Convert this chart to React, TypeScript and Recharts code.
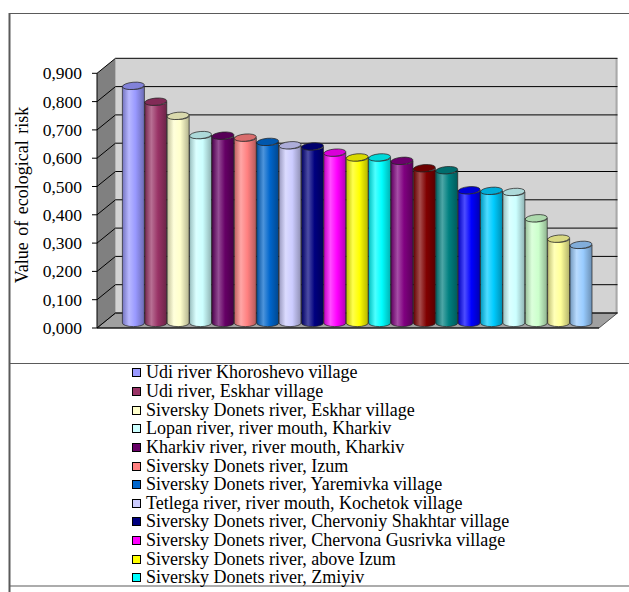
import React from "react";
import { Bar, BarChart, CartesianGrid, XAxis, YAxis } from "recharts";

// sampling sites, in the order of the bars (only the first 12 fit in the legend box)
const SITES = [
  "Udi river Khoroshevo village",
  "Udi river, Eskhar village",
  "Siversky Donets river, Eskhar village",
  "Lopan river, river mouth, Kharkiv",
  "Kharkiv river, river mouth, Kharkiv",
  "Siversky Donets river, Izum",
  "Siversky Donets river, Yaremivka village",
  "Tetlega river, river mouth, Kochetok village",
  "Siversky Donets river, Chervoniy Shakhtar village",
  "Siversky Donets river, Chervona Gusrivka village",
  "Siversky Donets river, above Izum",
  "Siversky Donets river, Zmiyiv",
];

const RISK = [
  0.838, 0.782, 0.732, 0.664, 0.662, 0.655, 0.64, 0.628, 0.624, 0.602, 0.585,
  0.585, 0.573, 0.547, 0.54, 0.469, 0.467, 0.463, 0.37, 0.298, 0.276,
];

const COLORS = [
  "#9999FF", "#993366", "#FFFFCC", "#CCFFFF", "#660066", "#FF8080", "#0066CC",
  "#CCCCFF", "#000080", "#FF00FF", "#FFFF00", "#00FFFF", "#800080", "#800000",
  "#008080", "#0000FF", "#00CCFF", "#CCFFFF", "#CCFFCC", "#FFFF99", "#99CCFF",
];

const TICKS = [0, 0.1, 0.2, 0.3, 0.4, 0.5, 0.6, 0.7, 0.8, 0.9];

const rows = RISK.map((risk, i) => ({
  site: SITES[i] ?? `site ${i + 1}`,
  risk,
  color: COLORS[i],
}));

const W = 629;
const H = 592;
const FONT = '"Liberation Serif", "Times New Roman", serif';

// 3-D box geometry
const FRONT_X = 97;
const FLOOR_RIGHT = 599;
const DX = 18.5;
const DY = 15;
const Y0_FRONT = 328;
const PX_PER_UNIT = 283;
const BAR_DEPTH = 1 / 3;
const PLOT_LEFT = FRONT_X + DX * BAR_DEPTH;
const PLOT_RIGHT = FLOOR_RIGHT + DX * BAR_DEPTH;
const PLOT_BOTTOM = Y0_FRONT - DY * BAR_DEPTH;
const PLOT_TOP = PLOT_BOTTOM - 0.9 * PX_PER_UNIT;
const TOP_FRONT = Y0_FRONT - 0.9 * PX_PER_UNIT;
const YAXIS_W = 60;

function mix(hex: string, target: string, t: number) {
  const a = parseInt(hex.slice(1), 16);
  const b = parseInt(target.slice(1), 16);
  const ch = (v: number, s: number) => (v >> s) & 255;
  const out = [16, 8, 0].map((s) => Math.round(ch(a, s) * (1 - t) + ch(b, s) * t));
  return `rgb(${out.join(",")})`;
}

function Cylinder(props: any) {
  const { x, y, width, height, payload, index } = props;
  if (!height || height <= 0) return null;
  const rx = width / 2;
  const ry = 3.6;
  const base = y + height;
  const c = payload.color;
  const gid = `cyl-${index}`;
  const body = `M${x},${y} V${base} A${rx},${ry} 0 0 0 ${x + width},${base} V${y} A${rx},${ry} 0 0 1 ${x},${y} Z`;
  return (
    <g>
      <defs>
        <linearGradient id={gid} x1="0" x2="1" y1="0" y2="0">
          <stop offset="0" stopColor={mix(c, "#000000", 0.25)} />
          <stop offset="0.3" stopColor={mix(c, "#FFFFFF", 0.3)} />
          <stop offset="0.6" stopColor={c} />
          <stop offset="1" stopColor={mix(c, "#000000", 0.3)} />
        </linearGradient>
      </defs>
      <path d={body} fill={`url(#${gid})`} stroke="#222" strokeWidth={0.7} />
      <ellipse
        cx={x + rx}
        cy={y}
        rx={rx}
        ry={ry}
        transform={`rotate(-5 ${x + rx} ${y})`}
        fill={mix(c, "#000000", 0.15)}
        stroke="#222"
        strokeWidth={0.7}
      />
    </g>
  );
}

function YTick(props: any) {
  const { y, payload } = props;
  const fy = y + DY * BAR_DEPTH;
  return (
    <g>
      <line x1={FRONT_X - 5} x2={FRONT_X} y1={fy} y2={fy} stroke="#000" />
      <text
        x={FRONT_X - 15}
        y={fy}
        textAnchor="end"
        dominantBaseline="central"
        fontFamily={FONT}
        fontSize={17.5}
        fill="#000"
      >
        {payload.value.toFixed(3).replace(".", ",")}
      </text>
    </g>
  );
}

function GridLine(p: any) {
  const y = p.y1;
  const backY = y - DY * (1 - BAR_DEPTH);
  const frontY = y + DY * BAR_DEPTH;
  return (
    <g key={p.key}>
      <line x1={FRONT_X} y1={frontY} x2={FRONT_X + DX} y2={backY} stroke="#000" />
      <line x1={FRONT_X + DX} y1={backY} x2={FLOOR_RIGHT + DX} y2={backY} stroke="#000" />
    </g>
  );
}

function Box() {
  const backTop = TOP_FRONT - DY;
  const backBottom = Y0_FRONT - DY;
  return (
    <svg width={W} height={H} style={{ position: "absolute", left: 0, top: 0 }}>
      <rect x={0} y={0} width={W} height={H} fill="#fff" />
      <line x1={9} x2={W} y1={13.5} y2={13.5} stroke="#5a5a5a" />
      <line x1={9.5} x2={9.5} y1={13} y2={H} stroke="#5a5a5a" strokeWidth={2} />
      <line x1={9} x2={W} y1={363.5} y2={363.5} stroke="#5a5a5a" strokeWidth={1.2} />
      <line x1={9} x2={W} y1={586} y2={586} stroke="#5a5a5a" strokeWidth={1.2} />
      <rect
        x={FRONT_X + DX}
        y={backTop}
        width={FLOOR_RIGHT - FRONT_X}
        height={backBottom - backTop}
        fill="#D3D3D3"
      />
      <rect x={FLOOR_RIGHT + DX - 2} y={backTop} width={2} height={backBottom - backTop} fill="#A9A9A9" />
      <polygon
        points={`${FRONT_X},${TOP_FRONT} ${FRONT_X + DX},${backTop} ${FRONT_X + DX},${backBottom} ${FRONT_X},${Y0_FRONT}`}
        fill="#808080"
      />
      <polygon
        points={`${FRONT_X},${Y0_FRONT} ${FLOOR_RIGHT},${Y0_FRONT} ${FLOOR_RIGHT + DX},${backBottom} ${FRONT_X + DX},${backBottom}`}
        fill="#A0A0A0"
        stroke="#333"
        strokeWidth={0.8}
      />
      <line x1={FRONT_X} x2={FRONT_X} y1={TOP_FRONT} y2={Y0_FRONT} stroke="#000" />
      <line x1={FRONT_X} x2={FLOOR_RIGHT} y1={Y0_FRONT} y2={Y0_FRONT} stroke="#000" />
      <text
        transform="translate(22 195) rotate(-90)"
        textAnchor="middle"
        dominantBaseline="central"
        fontFamily={FONT}
        fontSize={18}
        wordSpacing={2}
        fill="#000"
      >
        Value of ecological risk
      </text>
    </svg>
  );
}

function Legend() {
  return (
    <div style={{ position: "absolute", left: 132, top: 363.5, fontFamily: FONT, fontSize: 18, color: "#000" }}>
      {SITES.map((s, i) => (
        <div key={s} style={{ height: 18.65, display: "flex", alignItems: "center", whiteSpace: "nowrap" }}>
          <span
            style={{
              width: 9,
              height: 9,
              boxSizing: "border-box",
              border: "1px solid #000",
              background: COLORS[i],
              marginRight: 5,
              flex: "none",
            }}
          />
          {s}
        </div>
      ))}
    </div>
  );
}

export default function App() {
  return (
    <div style={{ position: "absolute", left: 0, top: 0, width: W, height: H, background: "#fff" }}>
      <Box />
      <div style={{ position: "absolute", left: 0, top: 0 }}>
        <BarChart
          width={W}
          height={H}
          data={rows}
          margin={{ top: PLOT_TOP, right: W - PLOT_RIGHT, bottom: H - PLOT_BOTTOM, left: PLOT_LEFT - YAXIS_W }}
          barCategoryGap="1%"
        >
          <CartesianGrid vertical={false} horizontal={GridLine} />
          <XAxis dataKey="site" hide padding={{ left: 19, right: 13 }} />
          <YAxis
            domain={[0, 0.9]}
            ticks={TICKS}
            interval={0}
            width={YAXIS_W}
            axisLine={false}
            tickLine={false}
            tick={(p: any) => <YTick {...p} />}
          />
          <Bar dataKey="risk" shape={Cylinder} isAnimationActive={false} />
        </BarChart>
      </div>
      <Legend />
    </div>
  );
}
